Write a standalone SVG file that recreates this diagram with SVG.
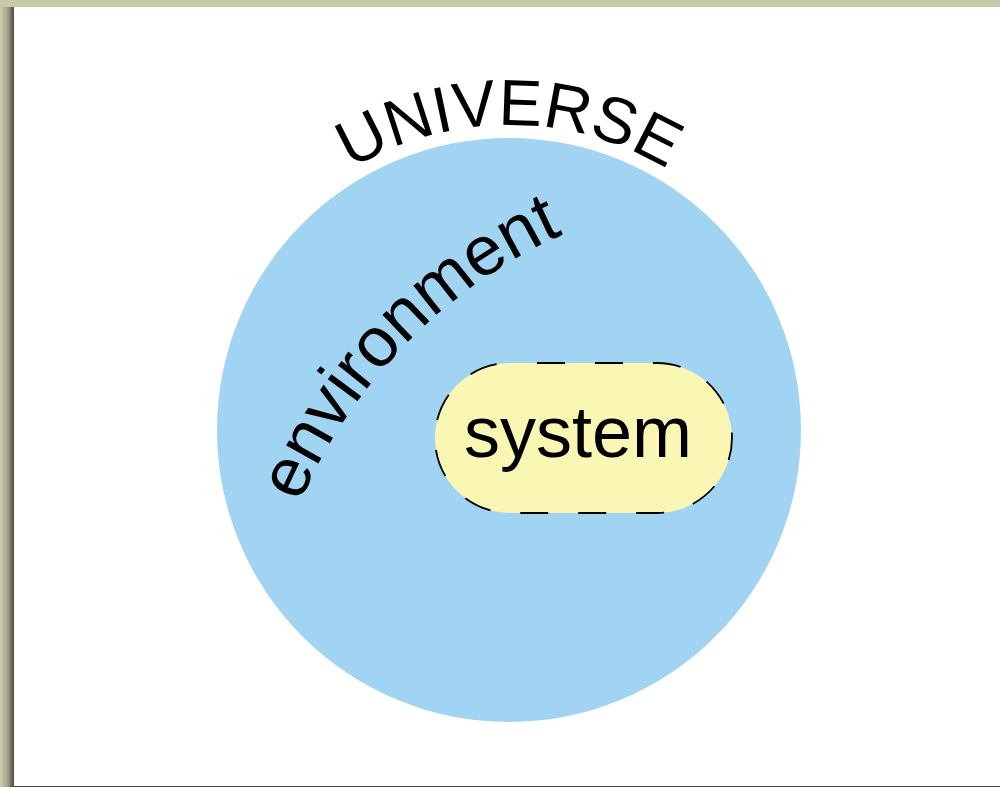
<svg xmlns="http://www.w3.org/2000/svg" width="1000" height="787" viewBox="0 0 1000 787">
  <defs>
    <linearGradient id="shadow" x1="0" y1="0" x2="1" y2="0">
      <stop offset="0" stop-color="#c6c4a4"/>
      <stop offset="0.5" stop-color="#a09e86"/>
      <stop offset="1" stop-color="#4a4a40"/>
    </linearGradient>
    <path id="universeArc" d="M 204 430 A 305 305 0 0 1 814 430"/>
    <path id="envArc" d="M 299 505 A 516 516 0 0 1 820 191"/>
  </defs>
  <style>
    .lbl { font-family: "Liberation Sans", Arial, sans-serif; fill: #000; }
    .env { fill: #a0d4f2; }
    .sys { fill: #faf6b3; stroke: #000; stroke-width: 1.8; stroke-dasharray: 28 30; stroke-dashoffset: 31; }
  </style>
  <rect x="0" y="0" width="1000" height="787" fill="#cbc9ab"/>
  <rect x="2" y="7" width="12" height="780" fill="url(#shadow)"/>
  <rect x="14" y="7" width="986" height="779" fill="#ffffff"/>
  <rect x="10" y="786" width="990" height="1" fill="#444444"/>

  <g id="environment">
    <circle class="env" cx="509" cy="430" r="292"/>
    <text class="lbl" font-size="70"><textPath href="#envArc" startOffset="2">environment</textPath></text>
  </g>

  <g id="universe">
    <text class="lbl" font-size="65" text-anchor="middle"><textPath href="#universeArc" startOffset="50%">UNIVERSE</textPath></text>
  </g>

  <g id="system">
    <rect class="sys" x="435" y="363" width="297" height="150" rx="75" ry="75"/>
    <text class="lbl" x="578" y="457" font-size="72" text-anchor="middle">system</text>
  </g>

  <g id="connectors"></g>
</svg>
